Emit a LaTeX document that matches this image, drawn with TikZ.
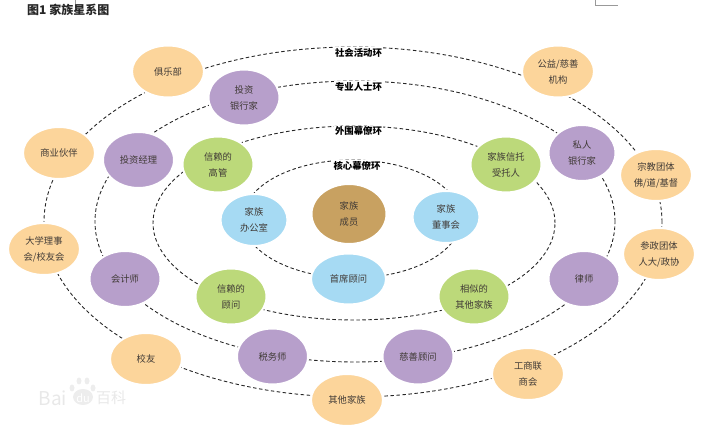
\documentclass[tikz,border=0pt]{standalone}
\usepackage{fontspec}
\setmainfont{Noto Sans CJK SC}
\usetikzlibrary{shapes.geometric}
\definecolor{orng}{HTML}{FCD59B}
\definecolor{purp}{HTML}{B79FCB}
\definecolor{gren}{HTML}{BCD97A}
\definecolor{blu}{HTML}{A6DAF3}
\definecolor{brwn}{HTML}{C8A161}
\definecolor{txt}{HTML}{403A36}
\tikzset{
  x=1pt,y=-1pt,
  ring/.style={draw=black!85,line width=0.9pt,dash pattern=on 3.5pt off 2.5pt},
  ringnode/.style={ring,ellipse,inner sep=0pt,outer sep=0pt},
  member/.style={ellipse,inner sep=0pt,outer sep=0pt,align=center,text=txt,
    font=\fontsize{9.3}{16}\selectfont,draw=white,line width=2pt},
  wide/.style={member,minimum width=72pt,minimum height=52pt},
  tall/.style={member,minimum width=71pt,minimum height=56pt},
  friend/.style={wide,fill=orng},
  pro/.style={tall,fill=purp},
  outer/.style={tall,fill=gren},
  core/.style={member,fill=blu,minimum width=67pt,minimum height=52pt},
  ringlabel/.style={inner sep=1pt,fill=white,font=\fontsize{9.4}{11}\selectfont\bfseries,text=black},
}
\begin{document}
\begin{tikzpicture}
\useasboundingbox (0,0) rectangle (705,427);
% rings
\node[ringnode,minimum width=618pt,minimum height=350pt] (r1) at (353,222) {};
\node[ringnode,minimum width=520pt,minimum height=281pt] (r2) at (355,221.5) {};
\node[ringnode,minimum width=402pt,minimum height=194pt] (r3) at (354,223) {};
\node[ringnode,minimum width=218pt,minimum height=118pt] (r4) at (352,219) {};
% ring labels
\node[ringlabel] (l1) at (358.5,52.5) {社会活动环};
\node[ringlabel] (l2) at (358.5,87) {专业人士环};
\node[ringlabel] (l3) at (358.5,131) {外围幕僚环};
\node[ringlabel] (l4) at (357,165.5) {核心幕僚环};
% social ring
\node[friend] (a1) at (168,71.5) {俱乐部};
\node[friend] (a2) at (59,153) {商业伙伴};
\node[friend] (a3) at (44,249) {大学理事\\会/校友会};
\node[friend] (a4) at (146,359) {校友};
\node[friend] (a5) at (347,400) {其他家族};
\node[friend] (a6) at (528,374) {工商联\\商会};
\node[friend] (a7) at (659,254) {参政团体\\人大/政协};
\node[friend] (a8) at (656,175) {宗教团体\\佛/道/基督};
\node[friend] (a9) at (558,71.5) {公益/慈善\\机构};
% professional ring
\node[pro] (b1) at (244,97.5) {投资\\银行家};
\node[pro] (b2) at (138.5,160) {投资经理};
\node[pro] (b3) at (125,279) {会计师};
\node[pro] (b4) at (272.5,356.5) {税务师};
\node[pro] (b5) at (418,356.5) {慈善顾问};
\node[pro] (b6) at (584,279) {律师};
\node[pro,minimum width=67pt] (b7) at (582,153) {私人\\银行家};
% outer staff ring
\node[outer] (c1) at (218,164.5) {信赖的\\高管};
\node[outer] (c2) at (231,296.5) {信赖的\\顾问};
\node[outer] (c3) at (474,296.5) {相似的\\其他家族};
\node[outer] (c4) at (506,164.5) {家族信托\\受托人};
% core ring
\node[core] (d1) at (254,220) {家族\\办公室};
\node[core] (d2) at (446,217) {家族\\董事会};
\node[core,minimum width=75pt,minimum height=51pt] (d3) at (348.5,279) {首席顾问};
\node[member,fill=brwn,minimum width=75pt,minimum height=60pt] (d4) at (349,214) {家族\\成员};
% title
\node[anchor=west,inner sep=0pt,font=\fontsize{12}{14}\selectfont\bfseries,text=black!85] (title) at (27,10) {图1 家族星系图};
% page marks
\draw[black!40,line width=0.5pt] (75.5,0) -- (75.5,4);
\draw[black!40,line width=0.5pt] (595.5,0) -- (595.5,5) -- (618,5);
% watermark
\fill[black!7] (83,397) ellipse (10pt and 8pt) (72,388) ellipse (2.5pt and 3.5pt) (79,381) ellipse (2.5pt and 3.5pt) (87,381) ellipse (2.5pt and 3.5pt) (93,388) ellipse (2.5pt and 3.5pt);
\node[inner sep=0pt,text=black!9,font=\fontsize{19}{20}\selectfont] (w1) at (53,398) {Bai};
\node[inner sep=0pt,text=white,font=\fontsize{11}{12}\selectfont] (w3) at (83,398) {du};
\node[inner sep=0pt,text=black!9,font=\fontsize{15}{20}\selectfont] (w2) at (111,398) {百科};
\end{tikzpicture}
\end{document}
